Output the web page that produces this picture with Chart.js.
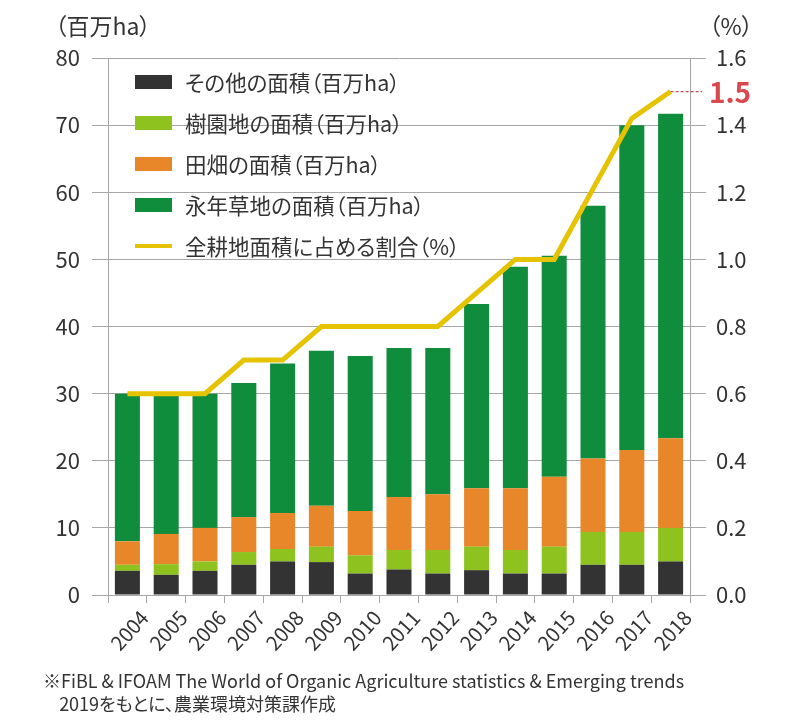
<!DOCTYPE html>
<html lang="ja">
<head>
<meta charset="utf-8">
<script src="https://cdn.jsdelivr.net/npm/chart.js@4"></script>
<style>
  body { margin: 0; background: #fff; font-family: "Noto Sans CJK JP", "Noto Sans", sans-serif; color: #333; }
  #wrap { position: relative; width: 800px; height: 720px; }
  #chart { position: absolute; left: 0; top: 0; }
  .axis-title { position: absolute; top: 9px; font-size: 23px; line-height: 32px; font-feature-settings: "palt"; }
  #legend { position: absolute; left: 135px; top: 61px; font-feature-settings: "palt"; }
  .lg-row { display: flex; align-items: center; height: 41px; font-size: 21.5px; }
  .lg-box { width: 37px; height: 14px; margin-right: 13px; }
  .lg-line { width: 37px; height: 4px; margin-right: 13px; }
  #peak { position: absolute; font-size: 28px; font-weight: bold; color: #d9484e; line-height: 32px; }
  #note { position: absolute; left: 43px; top: 669px; font-size: 18px; line-height: 23px; font-feature-settings: "palt"; }
</style>
</head>
<body>
<div id="wrap">
  <canvas id="chart" width="800" height="720"></canvas>
  <div class="axis-title" style="left:55px">（百万ha）</div>
  <div class="axis-title" style="left:709px">（%）</div>
  <div id="legend"></div>
  <div id="peak"></div>
  <div id="note">※FiBL &amp; IFOAM The World of Organic Agriculture statistics &amp; Emerging trends<br>&nbsp;&nbsp;&nbsp;&nbsp;2019をもとに、農業環境対策課作成</div>
</div>
<script>
/* ---- data ---- */
const years       = ['2004','2005','2006','2007','2008','2009','2010','2011','2012','2013','2014','2015','2016','2017','2018'];
const otherArea   = [3.6, 3.0, 3.6, 4.5, 5.0, 4.9, 3.2, 3.8, 3.2, 3.7, 3.2, 3.2, 4.5, 4.5, 5.0];
const orchardArea = [0.9, 1.6, 1.4, 1.9, 1.85, 2.3, 2.7, 2.9, 3.5, 3.5, 3.5, 4.0, 4.9, 4.9, 5.0];
const arableArea  = [3.5, 4.5, 5.0, 5.2, 5.35, 6.1, 6.6, 7.9, 8.3, 8.7, 9.2, 10.4, 10.95, 12.2, 13.35];
const grassArea   = [22.0, 20.7, 20.0, 20.0, 22.3, 23.1, 23.1, 22.2, 21.8, 27.45, 33.0, 32.95, 37.65, 48.4, 48.35];
const shareRate   = [0.6, 0.6, 0.6, 0.7, 0.7, 0.8, 0.8, 0.8, 0.8, 0.9, 1.0, 1.0, 1.21, 1.42, 1.5];

const seriesNames = ['その他の面積（百万ha）','樹園地の面積（百万ha）','田畑の面積（百万ha）','永年草地の面積（百万ha）','全耕地面積に占める割合（%）'];
const seriesColors = ['#333333','#8dc21f','#e8862a','#0f8c3c','#e6c300'];

const GRID = '#a6a6a6';
const FONT = '"Noto Sans CJK JP", "Noto Sans", sans-serif';

// dashed marker from last point of the line to the right axis + red value label
const peakMarker = {
  id: 'peakMarker',
  afterDatasetsDraw(chart) {
    const meta = chart.getDatasetMeta(4);
    const pt = meta.data[meta.data.length - 1];
    const ctx = chart.ctx;
    ctx.save();
    ctx.strokeStyle = '#c0504d';
    ctx.lineWidth = 1.2;
    ctx.setLineDash([3, 2]);
    ctx.beginPath();
    ctx.moveTo(pt.x, pt.y);
    ctx.lineTo(chart.chartArea.right + 12, pt.y);
    ctx.stroke();
    ctx.restore();
    const lbl = document.getElementById('peak');
    lbl.textContent = shareRate[shareRate.length - 1].toFixed(1);
    lbl.style.left = (chart.chartArea.right + 19) + 'px';
    lbl.style.top = (pt.y - 17) + 'px';
  }
};

function bar(i, data) {
  return {
    type: 'bar', label: seriesNames[i], data,
    backgroundColor: seriesColors[i], yAxisID: 'y', order: 1,
    barPercentage: 0.645, categoryPercentage: 1.0
  };
}

const chart = new Chart(document.getElementById('chart'), {
  data: {
    labels: years,
    datasets: [
      bar(0, otherArea),
      bar(1, orchardArea),
      bar(2, arableArea),
      bar(3, grassArea),
      {
        type: 'line', label: seriesNames[4], data: shareRate,
        borderColor: seriesColors[4], borderWidth: 5, pointRadius: 0,
        tension: 0, yAxisID: 'y1', order: 0
      }
    ]
  },
  options: {
    responsive: false,
    animation: false,
    layout: { padding: { top: 58, left: 0, right: 0, bottom: 0 } },
    plugins: { legend: { display: false }, tooltip: { enabled: false } },
    scales: {
      x: {
        stacked: true,
        afterFit: s => { s.height = 125; },
        grid: { drawOnChartArea: false, drawTicks: true, tickLength: 8, color: GRID },
        border: { color: GRID },
        ticks: {
          autoSkip: false, minRotation: 48, maxRotation: 48, labelOffset: 17, padding: 3,
          color: '#333', font: { family: FONT, size: 20 }
        }
      },
      y: {
        stacked: true, position: 'left', min: 0, max: 80,
        afterFit: s => { s.width = 108; },
        grid: { color: GRID, tickLength: 16 },
        border: { color: GRID },
        ticks: { stepSize: 10, padding: 12, color: '#333', font: { family: FONT, size: 22 } }
      },
      y1: {
        position: 'right', min: 0, max: 1.6,
        afterFit: s => { s.width = 110; },
        grid: { drawOnChartArea: false, color: GRID, tickLength: 16 },
        border: { color: GRID },
        ticks: {
          stepSize: 0.2, padding: 10, color: '#333', font: { family: FONT, size: 22 },
          callback: v => Number(v).toFixed(1)
        }
      }
    }
  },
  plugins: [peakMarker]
});

// html legend inside the plot area
const legend = document.getElementById('legend');
legend.innerHTML = seriesNames.map((name, i) => `
  <div class="lg-row">
    <span class="${i === 4 ? 'lg-line' : 'lg-box'}" style="background:${seriesColors[i]}"></span>${name}
  </div>`).join('');
</script>
</body>
</html>
